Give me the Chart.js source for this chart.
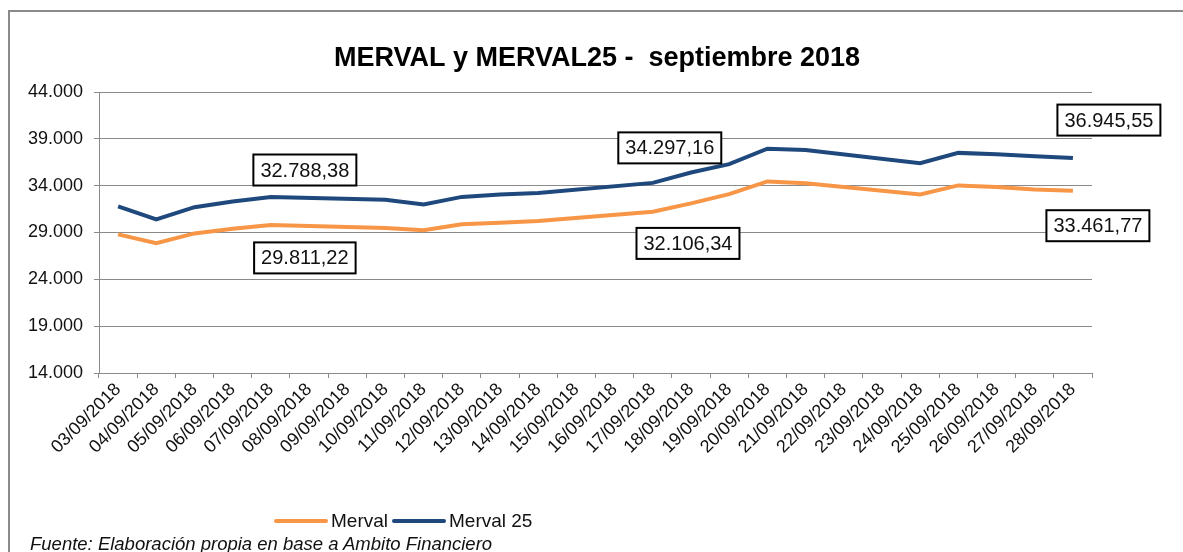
<!DOCTYPE html>
<html>
<head>
<meta charset="utf-8">
<script src="https://cdn.jsdelivr.net/npm/chart.js@4.4.1/dist/chart.umd.min.js"></script>
<style>
  html, body { margin: 0; padding: 0; background: #fff; overflow: hidden; }
  body { width: 1183px; height: 552px; position: relative; font-family: Arial, "Liberation Sans", sans-serif; }
  #frame { position: absolute; left: 8px; top: 10px; width: 1400px; height: 800px; border: 2px solid #8a8a8a; box-sizing: border-box; }
  #chart { position: absolute; left: 0; top: 0; }
  #legend { position: absolute; left: 274px; top: 510px; display: flex; align-items: center; font-size: 19px; color: #111; }
  #legend .item { display: flex; align-items: center; margin-right: 4px; }
  #legend .swatch { width: 54px; height: 4px; border-radius: 2px; margin-right: 3px; }
  #source { position: absolute; left: 30px; top: 533px; font-size: 18.5px; font-style: italic; color: #111; }
</style>
</head>
<body>
<div id="frame"></div>
<canvas id="chart" width="1183" height="552"></canvas>
<div id="legend"></div>
<div id="source">Fuente: Elaboración propia en base a Ambito Financiero</div>
<script>
const dates = [
  "03/09/2018", "04/09/2018", "05/09/2018", "06/09/2018", "07/09/2018",
  "08/09/2018", "09/09/2018", "10/09/2018", "11/09/2018", "12/09/2018",
  "13/09/2018", "14/09/2018", "15/09/2018", "16/09/2018", "17/09/2018",
  "18/09/2018", "19/09/2018", "20/09/2018", "21/09/2018", "22/09/2018",
  "23/09/2018", "24/09/2018", "25/09/2018", "26/09/2018", "27/09/2018",
  "28/09/2018",
];
// weekends have no quote (null), the line spans over them
const merval = [
  28800, 27850, 28900, 29400, 29811.22, null, null, 29480, 29240, 29880,
  30050, 30230, null, null, 31210, 32106.34, 33100, 34450, 34270, null,
  null, 33050, 34030, 33850, 33580, 33461.77,
];
const merval25 = [
  31800, 30400, 31700, 32300, 32788.38, null, null, 32500, 32000, 32800,
  33050, 33220, null, null, 34297.16, 35400, 36300, 37950, 37800, null,
  null, 36400, 37500, 37350, 37150, 36945.55,
];
const seriesNames = ["Merval", "Merval 25"];
const yTicks = [14000, 19000, 24000, 29000, 34000, 39000, 44000];
const chartTitle = "MERVAL y MERVAL25 -  septiembre 2018";

// which points carry a boxed value label, and where the box sits
const callouts = [
  { series: 1, date: "07/09/2018", dx: 34, dy: -27 },
  { series: 0, date: "07/09/2018", dx: 34, dy: 33 },
  { series: 1, date: "17/09/2018", dx: 17, dy: -35 },
  { series: 0, date: "18/09/2018", dx: -3, dy: 40 },
  { series: 1, date: "28/09/2018", dx: 36, dy: -38 },
  { series: 0, date: "28/09/2018", dx: 25, dy: 35 },
];

const colors = ["#F79646", "#1F497D"];
const FONT = "Arial, 'Liberation Sans', sans-serif";

function fmt(v, dec) {
  const parts = v.toFixed(dec).split(".");
  const int = parts[0].replace(/\B(?=(\d{3})+(?!\d))/g, ".");
  return dec ? int + "," + parts[1] : int;
}

// title centred on the whole picture, not on the plot
const titlePlugin = {
  id: "pageTitle",
  afterDraw(chart) {
    const ctx = chart.ctx;
    ctx.save();
    ctx.font = "bold 27px " + FONT;
    ctx.fillStyle = "#000";
    ctx.textAlign = "center";
    ctx.textBaseline = "alphabetic";
    ctx.fillText(chartTitle, 597, 66);
    ctx.restore();
  },
};

const calloutPlugin = {
  id: "callouts",
  afterDatasetsDraw(chart) {
    const ctx = chart.ctx;
    ctx.save();
    ctx.font = "20px " + FONT;
    ctx.textAlign = "center";
    ctx.textBaseline = "middle";
    callouts.forEach(c => {
      const idx = dates.indexOf(c.date);
      const pt = chart.getDatasetMeta(c.series).data[idx];
      const value = chart.data.datasets[c.series].data[idx];
      const text = fmt(value, 2);
      const cx = pt.x + c.dx, cy = pt.y + c.dy;
      const w = ctx.measureText(text).width + 14, h = 31;
      ctx.fillStyle = "#fff";
      ctx.fillRect(cx - w / 2, cy - h / 2, w, h);
      ctx.lineWidth = 2;
      ctx.strokeStyle = "#000";
      ctx.strokeRect(cx - w / 2, cy - h / 2, w, h);
      ctx.fillStyle = "#111";
      ctx.fillText(text, cx, cy + 1);
    });
    ctx.restore();
  },
};

new Chart(document.getElementById("chart"), {
  type: "line",
  data: {
    labels: dates,
    datasets: [
      {
        label: seriesNames[0],
        data: merval,
        borderColor: colors[0],
        backgroundColor: colors[0],
        borderWidth: 4,
        pointRadius: 0,
        spanGaps: true,
        tension: 0,
      },
      {
        label: seriesNames[1],
        data: merval25,
        borderColor: colors[1],
        backgroundColor: colors[1],
        borderWidth: 4,
        pointRadius: 0,
        spanGaps: true,
        tension: 0,
      },
    ],
  },
  options: {
    responsive: false,
    animation: false,
    devicePixelRatio: 1,
    layout: { padding: { left: 10, right: 91, top: 92, bottom: 0 } },
    plugins: {
      legend: { display: false },
      tooltip: { enabled: false },
      title: { display: false },
    },
    scales: {
      x: {
        offset: true,
        grid: {
          offset: true,
          drawOnChartArea: false,
          drawTicks: true,
          tickLength: 5,
          color: "#8a8a8a",
        },
        border: { color: "#8a8a8a", width: 1 },
        ticks: {
          autoSkip: false,
          minRotation: 45,
          maxRotation: 45,
          padding: 1,
          color: "#111",
          font: { family: FONT, size: 18 },
        },
        afterFit(scale) { scale.height = 179; },
      },
      y: {
        min: 14000,
        max: 44000,
        afterBuildTicks(scale) { scale.ticks = yTicks.map(v => ({ value: v })); },
        grid: { color: "#8a8a8a", tickLength: 5 },
        border: { color: "#8a8a8a", width: 1 },
        ticks: {
          padding: 11,
          color: "#111",
          font: { family: FONT, size: 18 },
          callback: v => fmt(v, 0),
        },
        afterFit(scale) { scale.width = 89; },
      },
    },
  },
  plugins: [calloutPlugin, titlePlugin],
});

const legend = document.getElementById("legend");
seriesNames.forEach((name, i) => {
  const item = document.createElement("div");
  item.className = "item";
  const sw = document.createElement("span");
  sw.className = "swatch";
  sw.style.background = colors[i];
  const label = document.createElement("span");
  label.textContent = name;
  item.appendChild(sw);
  item.appendChild(label);
  legend.appendChild(item);
});
</script>
</body>
</html>
